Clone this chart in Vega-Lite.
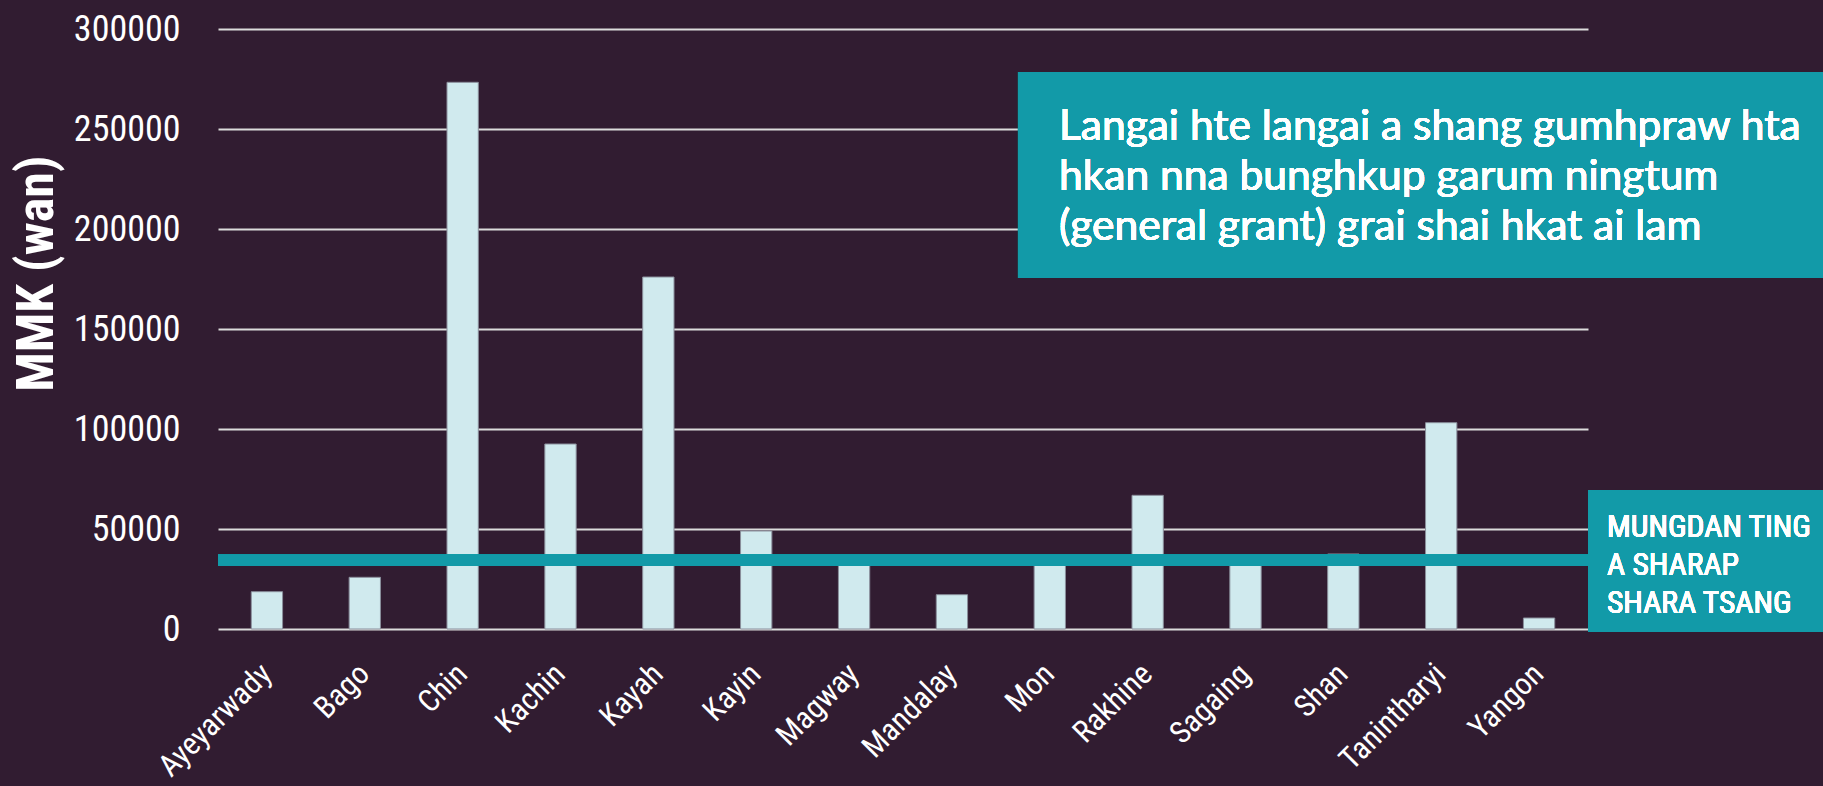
{
  "$schema": "https://vega.github.io/schema/vega-lite/v6.json",
  "autosize": "none",
  "width": 1370,
  "height": 600,
  "padding": {"left": 218, "top": 29, "right": 235, "bottom": 157},
  "background": "#311c31",
  "config": {"view": {"stroke": null}},
  "data": {
    "values": [
      {"region": "Ayeyarwady", "value": 18650},
      {"region": "Bago", "value": 25850},
      {"region": "Chin", "value": 273350},
      {"region": "Kachin", "value": 92500},
      {"region": "Kayah", "value": 176000},
      {"region": "Kayin", "value": 49000},
      {"region": "Magway", "value": 33000},
      {"region": "Mandalay", "value": 17150},
      {"region": "Mon", "value": 32500},
      {"region": "Rakhine", "value": 66850},
      {"region": "Sagaing", "value": 33500},
      {"region": "Shan", "value": 37500},
      {"region": "Tanintharyi", "value": 103150},
      {"region": "Yangon", "value": 5500}
    ]
  },
  "resolve": {"scale": {"x": "independent"}},
  "layer": [
    {
      "mark": {"type": "bar", "fill": "#d0eaee", "stroke": "#8a8f9c", "strokeWidth": 1},
      "encoding": {
        "x": {
          "field": "region", "type": "nominal", "sort": null,
          "scale": {"paddingInner": 0.68, "paddingOuter": 0.34},
          "axis": {
            "title": null, "labelAngle": -45, "labelAlign": "right", "labelBaseline": "middle",
            "labelPadding": 40, "ticks": false, "domain": false,
            "labelColor": "#ffffff", "labelFontSize": 31,
            "labelFont": "Liberation Sans Narrow, Roboto Condensed, DejaVu Sans Condensed, sans-serif"
          }
        },
        "y": {
          "field": "value", "type": "quantitative",
          "scale": {"domain": [0, 300000], "nice": false},
          "axis": {
            "title": "MMK (wan)", "values": [0, 50000, 100000, 150000, 200000, 250000, 300000],
            "format": "d", "ticks": false, "domain": false, "labelPadding": 38,
            "labelColor": "#ffffff", "labelFontSize": 36,
            "labelFont": "Liberation Sans Narrow, Roboto Condensed, DejaVu Sans Condensed, sans-serif",
            "grid": true, "gridColor": "#dcdcdc", "gridWidth": 2, "gridOpacity": 1,
            "titleColor": "#ffffff", "titleFontSize": 52, "titleFontWeight": "bold",
            "titleFont": "Liberation Sans Narrow, Roboto Condensed, DejaVu Sans Condensed, sans-serif",
            "titleAngle": -90, "titleAlign": "center", "titleBaseline": "alphabetic",
            "titleX": -166, "titleY": 244
          }
        }
      }
    },
    {
      "mark": {"type": "rule", "color": "#129aa8", "strokeWidth": 11},
      "encoding": {
        "y": {"datum": 34350, "type": "quantitative", "scale": {"domain": [0, 300000], "nice": false}}
      }
    },
    {
      "mark": {"type": "rect", "fill": "#129aa8"},
      "encoding": {
        "x": {"datum": 8.175, "type": "quantitative", "scale": {"domain": [0, 14], "nice": false, "zero": false}, "axis": null},
        "x2": {"datum": 16.5},
        "y": {"datum": 278500, "type": "quantitative", "scale": {"domain": [0, 300000], "nice": false}},
        "y2": {"datum": 175500}
      }
    },
    {
      "mark": {"type": "rect", "fill": "#129aa8"},
      "encoding": {
        "x": {"datum": 14, "type": "quantitative", "scale": {"domain": [0, 14], "nice": false, "zero": false}, "axis": null},
        "x2": {"datum": 16.5},
        "y": {"datum": 69500, "type": "quantitative", "scale": {"domain": [0, 300000], "nice": false}},
        "y2": {"datum": -1500}
      }
    },
    {
      "mark": {
        "type": "text", "align": "left", "baseline": "alphabetic", "color": "#ffffff",
        "font": "Lato, Open Sans, sans-serif", "fontSize": 42.5, "fontWeight": "normal", "lineHeight": 50,
        "text": ["Langai hte langai a shang gumhpraw hta", "hkan nna bunghkup garum ningtum", "(general grant) grai shai hkat ai lam"]
      },
      "encoding": {
        "x": {"datum": 8.594, "type": "quantitative", "scale": {"domain": [0, 14], "nice": false, "zero": false}, "axis": null},
        "y": {"datum": 244500, "type": "quantitative", "scale": {"domain": [0, 300000], "nice": false}}
      }
    },
    {
      "mark": {
        "type": "text", "align": "left", "baseline": "alphabetic", "color": "#ffffff",
        "font": "Liberation Sans Narrow, Roboto Condensed, DejaVu Sans Condensed, sans-serif",
        "fontSize": 31.5, "fontWeight": "normal", "lineHeight": 38,
        "text": ["MUNGDAN TING", "A SHARAP", "SHARA TSANG"]
      },
      "encoding": {
        "x": {"datum": 14.194, "type": "quantitative", "scale": {"domain": [0, 14], "nice": false, "zero": false}, "axis": null},
        "y": {"datum": 46000, "type": "quantitative", "scale": {"domain": [0, 300000], "nice": false}}
      }
    }
  ]
}
